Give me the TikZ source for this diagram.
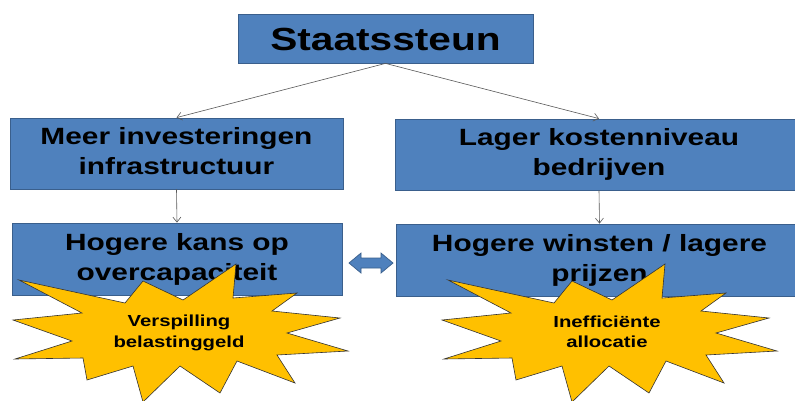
\documentclass[tikz,border=0pt]{standalone}
\usepackage{fontspec}
\usepackage{graphicx}
\setmainfont{Liberation Sans}
\usetikzlibrary{arrows.meta}
\definecolor{boxblue}{HTML}{4F81BD}
\definecolor{boxedge}{HTML}{3A5F8C}
\definecolor{staryellow}{HTML}{FFC000}
\newcommand\widetxt[1]{\scalebox{1.27}[1]{\begin{tabular}{@{}c@{}}#1\end{tabular}}}
\def\starpath{(236,264) -- (233,298) -- (297,293) -- (272,311) -- (340,318) -- (287,333) -- (348,351) -- (277,355) -- (295,383) -- (237,361) -- (220,393) -- (180,366) -- (143,402) -- (133,366) -- (87,380) -- (83,358) -- (15,359) -- (72,341) -- (13,320) -- (82,313) -- (19,280) -- (125,303) -- (143,281) -- (183,300) -- cycle}
\begin{document}
\begin{tikzpicture}[x=1pt,y=-1pt,
  bluebox/.style={draw=boxedge,line width=0.8pt,fill=boxblue,inner sep=0pt,align=center,
    font=\bfseries\fontsize{23.5}{30}\selectfont},
  conn/.style={draw=black!65,line width=0.6pt,-{Straight Barb[length=5pt,width=8pt]}},
  burst/.style={draw=black!80,line width=0.6pt,fill=staryellow},
  bursttext/.style={align=center,font=\bfseries\fontsize{16}{20.5}\selectfont}]
\clip (0,0) rectangle (795,400);
\fill[white] (0,0) rectangle (795,400);
\node[bluebox,minimum width=295pt,minimum height=49pt,font=\bfseries\fontsize{32}{36}\selectfont] (top) at (385.5,38.5) {\raisebox{-5pt}[\height][\depth]{\widetxt{Staatssteun}}};
\node[bluebox,minimum width=333pt,minimum height=71pt] (mi) at (176.5,153.5) {\widetxt{Meer investeringen\\infrastructuur}};
\node[bluebox,minimum width=408pt,minimum height=71pt] (lk) at (599,154.5) {\widetxt{Lager kostenniveau\\bedrijven}};
\node[bluebox,minimum width=330pt,minimum height=72pt] (hk) at (177,259) {\widetxt{Hogere kans op\\overcapaciteit}};
\node[bluebox,minimum width=407pt,minimum height=72pt] (hw) at (599.5,260) {\widetxt{Hogere winsten / lagere\\prijzen}};
\draw[conn] (top.south) -- (mi.north);
\draw[conn] (top.south) -- (lk.north);
\draw[conn] (mi.south) -- (hk.north);
\draw[conn] (lk.south) -- (hw.north);
\coordinate (dl) at (349,263);
\coordinate (dr) at (393,263);
\draw[draw=boxedge,line width=0.7pt,fill=boxblue] (dl) -- (361,253) -- (361,258) -- (381,258) -- (381,253) -- (dr) -- (381,273) -- (381,268) -- (361,268) -- (361,273) -- cycle;
\draw[burst] \starpath;
\node[bursttext] (b1) at (179,333) {\widetxt{Verspilling\\belastinggeld}};
\begin{scope}[xshift=429pt]
\draw[burst] \starpath;
\end{scope}
\node[bursttext] (b2) at (607,333.5) {\widetxt{Inefficiënte\\allocatie}};
\end{tikzpicture}
\end{document}
